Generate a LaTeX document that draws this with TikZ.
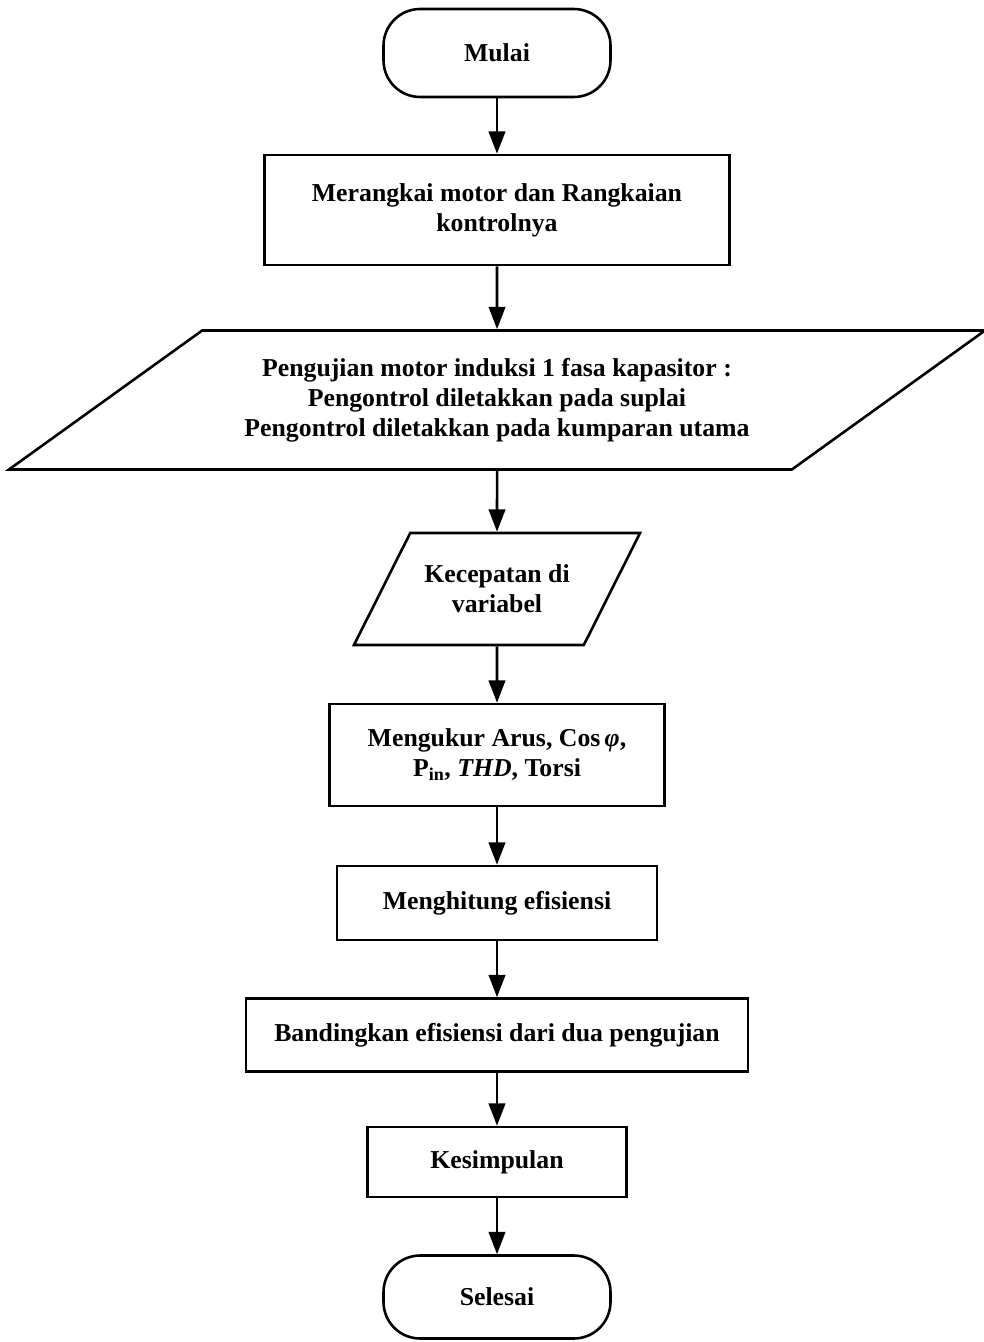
\documentclass[tikz,border=0pt]{standalone}
\usepackage{fontspec}
\setmainfont{Liberation Serif}
\usetikzlibrary{shapes.geometric,arrows.meta}

\begin{document}
\begin{tikzpicture}[
  terminal/.style = {
    shape = rectangle,
    draw,
    rounded corners = 1.1cm,
    minimum width = 6.81cm,
    minimum height = 2.64cm,
  },
  process/.style = {
    shape = rectangle,
    draw,
    align = center,
  },
  io/.style = {
    shape = trapezium,
    draw,
    align = center,
    trapezium stretches body,
  },
  every node/.style = {
    font = \fontsize{22}{25.5}\selectfont\bfseries,
    inner sep = 0pt,
  },
  every path/.style = {
    line width = 2.2pt
  },
  arrow/.style = {
    -{Triangle[length=19pt,width=14pt]}
  }
]
  \useasboundingbox (0,0) rectangle (29.49,-40.26);

  \node[terminal] (mulai) at (14.91,-1.59) {Mulai};
  \node[process, minimum width = 13.95cm, minimum height = 3.3cm] (rangkai) at (14.91,-6.30)
    {Merangkai motor dan Rangkaian\\kontrolnya};
  \node[io, trapezium left angle = 23.4, trapezium right angle = 156.6,
    minimum width = 29.28cm, minimum height = 4.17cm] (uji) at (14.91,-12.0)
    {Pengujian motor induksi 1 fasa kapasitor :\\
     Pengontrol diletakkan pada suplai\\
     Pengontrol diletakkan pada kumparan utama};
  \node[io, trapezium left angle = 40.5, trapezium right angle = 139.5,
    minimum width = 8.58cm, minimum height = 3.36cm] (kecepatan) at (14.91,-17.67)
    {Kecepatan di\\variabel};
  \node[process, minimum width = 10.05cm, minimum height = 3.06cm] (ukur) at (14.91,-22.65)
    {Mengukur Arus, Cos\,\textit{φ},\\P\textsubscript{in}, \textit{THD}, Torsi};
  \node[process, minimum width = 9.6cm, minimum height = 2.22cm] (hitung) at (14.91,-27.09)
    {Menghitung efisiensi};
  \node[process, minimum width = 15.06cm, minimum height = 2.19cm] (banding) at (14.91,-31.05)
    {Bandingkan efisiensi dari dua pengujian};
  \node[process, minimum width = 7.77cm, minimum height = 2.1cm] (simpul) at (14.91,-34.86)
    {Kesimpulan};
  \node[terminal, minimum height = 2.49cm] (selesai) at (14.91,-38.91) {Selesai};

  \draw[arrow] (mulai) -- (rangkai);
  \draw[arrow] (rangkai) -- (uji);
  \draw[arrow] (uji) -- (kecepatan);
  \draw[arrow] (kecepatan) -- (ukur);
  \draw[arrow] (ukur) -- (hitung);
  \draw[arrow] (hitung) -- (banding);
  \draw[arrow] (banding) -- (simpul);
  \draw[arrow] (simpul) -- (selesai);
\end{tikzpicture}
\end{document}
